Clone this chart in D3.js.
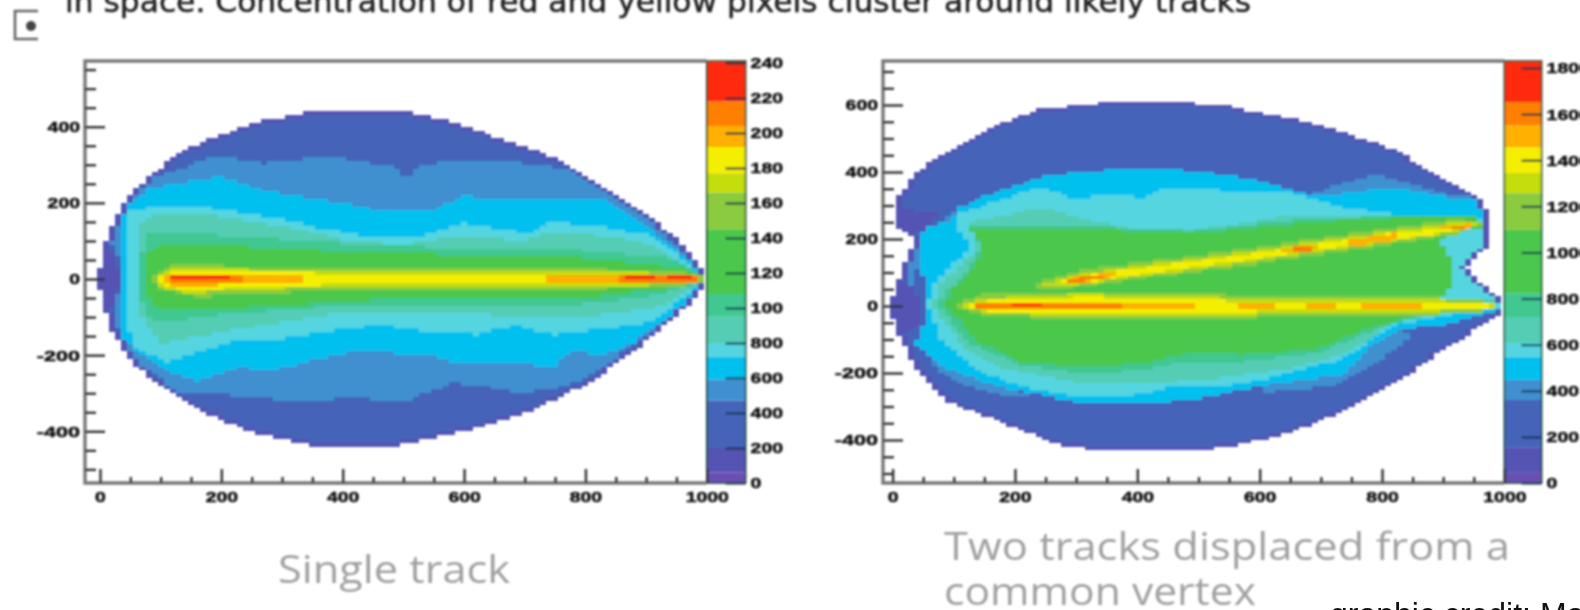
<!DOCTYPE html>
<html>
<head>
<meta charset="utf-8">
<script src="https://cdn.jsdelivr.net/npm/d3@7"></script>
<style>
  html, body { margin: 0; padding: 0; background: #fff; overflow: hidden; }
  svg { display: block; }
  .axis text { font-family: "Liberation Sans", sans-serif; font-weight: bold; font-size: 15.5px; fill: #111; stroke: #111; stroke-width: 0.5px; }
  .axis path { display: none; }
  .axis line { stroke: #333; stroke-width: 2.4px; }
</style>
</head>
<body>
<svg width="1580" height="610"></svg>
<script>
// Colour levels, lowest first. Each plot has its own z units:
var bandColors = ['#6a50b2', '#5452b4', '#4464b8', '#4090d0', '#00c0f0', '#55d5e0', '#55cdb5', '#40c890',
  '#4cc84c', '#8acb40', '#c4dd10', '#f4ee00', '#ffb000', '#ff8000', '#ff2a10'];
var leftLevels = [0, 6, 20, 47, 59, 72, 80, 95, 108, 145, 166, 177, 192, 204, 218];
var rightLevels = [0, 44, 155, 360, 447, 546, 607, 720, 823, 1098, 1257, 1345, 1456, 1552, 1652];

// Tick labels:
var xMajor = [0, 200, 400, 600, 800, 1000];
var xMinor = [50, 100, 150, 250, 300, 350, 450, 500, 550, 650, 700, 750, 850, 900, 950];
var leftYMajor = [-400, -200, 0, 200, 400];
var leftYMinor = [-500, -450, -350, -300, -250, -150, -100, -50, 50, 100, 150, 250, 300, 350, 450, 500, 550];
var rightYMajor = [-400, -200, 0, 200, 400, 600];
var rightYMinor = [-500, -450, -350, -300, -250, -150, -100, -50, 50, 100, 150, 250, 300, 350, 450, 500, 550, 650, 700];
var leftBarTicks = [0, 20, 40, 60, 80, 100, 120, 140, 160, 180, 200, 220, 240];
var leftBarLabels = ['0', '200', '400', '600', '800', '100', '120', '140', '160', '180', '200', '220', '240'];
var rightBarTicks = [0, 200, 400, 600, 800, 1000, 1200, 1400, 1600, 1800];

// Single track: contours as [x, y]
var leftOutline = [[0, 30], [10, 102], [25, 160], [43, 207], [84, 278], [150, 347], [250, 409], [350, 439], [500, 439], [582, 413], [665, 365], [748, 320], [832, 242], [914, 155], [965, 85], [1003, 5], [1003, -5], [972, -68], [873, -200], [790, -287], [707, -348], [624, -392], [500, -435], [350, -435], [250, -403], [167, -348], [84, -265], [43, -200], [18, -130], [5, -68], [0, -30]];
var leftPurple = [[0, 80], [20, 70], [30, 30], [32, -10], [28, -50], [15, -75], [0, -80]];
var leftSteel = [[33, 0], [30, 60], [18, 100], [30, 170], [55, 220], [84, 268], [126, 286], [192, 326], [265, 304], [375, 322], [470, 300], [495, 290], [505, 255], [515, 290], [540, 304], [625, 310], [707, 304], [790, 286], [832, 234], [900, 160], [960, 75], [985, 15], [985, -15], [950, -90], [873, -180], [832, -225], [790, -269], [748, -286], [690, -300], [624, -278], [582, -273], [549, -295], [499, -321], [416, -312], [333, -321], [267, -312], [209, -304], [126, -295], [70, -230], [40, -170], [20, -90], [30, -40]];
var leftCyan = [[40, 0], [35, 70], [30, 130], [43, 190], [84, 240], [140, 254], [195, 268], [265, 233], [365, 207], [465, 181], [550, 181], [600, 216], [707, 207], [832, 207], [873, 172], [930, 102], [980, 39], [990, 5], [990, -5], [975, -45], [930, -110], [873, -173], [832, -199], [773, -190], [748, -234], [681, -217], [582, -217], [540, -199], [416, -190], [350, -212], [292, -238], [225, -234], [159, -269], [109, -243], [67, -199], [34, -146], [35, -80]];
var leftLightCyan = [[50, 0], [45, 60], [43, 130], [43, 173], [84, 190], [167, 190], [233, 172], [292, 159], [365, 133], [441, 111], [516, 106], [600, 146], [665, 129], [707, 120], [740, 150], [832, 137], [914, 111], [972, 39], [992, 3], [992, -3], [960, -50], [914, -112], [832, -129], [748, -146], [681, -120], [624, -146], [540, -138], [457, -120], [375, -138], [308, -155], [233, -155], [167, -190], [109, -217], [59, -181], [45, -120], [45, -60]];
var leftTeal = [[62, 0], [60, 60], [65, 150], [90, 170], [200, 165], [300, 140], [400, 105], [500, 90], [600, 115], [700, 100], [740, 125], [850, 110], [920, 85], [975, 25], [995, 2], [995, -2], [975, -25], [920, -75], [830, -95], [750, -95], [650, -95], [500, -90], [400, -90], [300, -115], [200, -140], [100, -170], [75, -120], [62, -60]];
var leftSea = [[70, 0], [68, 60], [80, 120], [200, 115], [400, 95], [600, 80], [800, 75], [940, 55], [985, 12], [997, 0], [985, -12], [930, -40], [800, -65], [600, -70], [400, -70], [200, -95], [85, -115], [70, -60]];
var leftGreen = [[78, 0], [80, 70], [100, 90], [250, 85], [430, 70], [800, 55], [960, 30], [995, 0], [960, -20], [800, -50], [500, -50], [250, -75], [100, -85], [80, -50]];
var leftLime = [[84, 0], [120, 38], [240, 34], [500, 28], [800, 28], [980, 14], [998, 0], [980, -14], [800, -28], [500, -28], [240, -38], [160, -48], [100, -28]];
var leftYellowGreen = [[88, 0], [115, 28], [220, 26], [400, 18], [700, 18], [970, 14], [994, 0], [970, -14], [700, -18], [400, -18], [230, -30], [150, -38], [110, -28]];
var leftYellow = [[94, 0], [120, 22], [215, 22], [400, 13], [700, 13], [975, 12], [990, 0], [975, -12], [700, -13], [400, -13], [215, -24], [150, -34], [110, -18]];
var leftAmberA = [[98, 0], [120, 13], [330, 13], [335, -13], [120, -16]];
var leftAmberB = [[740, 12], [988, 12], [988, -12], [740, -12]];
var leftOrangeA = [[108, 0], [125, 12], [230, 12], [240, -12], [125, -12]];
var leftOrangeB = [[860, 12], [990, 8], [990, -8], [860, -12]];
var leftRedA = [[118, 9], [214, 9], [214, 1], [118, 1]];
var leftRedB = [[870, 9], [920, 9], [920, 1], [870, 1]];
var leftRedC = [[940, 9], [980, 9], [980, 1], [940, 1]];

// Two tracks: contours as [x, y]
var rightOutline = [[-3, 3], [1, 38], [17, 117], [37, 201], [30, 206], [1, 246], [10, 325], [30, 384], [79, 454], [161, 533], [244, 588], [342, 607], [425, 612], [532, 602], [656, 558], [738, 518], [820, 469], [903, 374], [960, 320], [980, 255], [980, 186], [935, 117], [944, 97], [1003, 8], [1003, -17], [903, -126], [820, -235], [738, -314], [656, -373], [573, -413], [491, -433], [359, -433], [277, -418], [202, -364], [87, -284], [37, -185], [1, -56]];
var rightPurpleLobe = [[3, 250], [20, 290], [75, 275], [60, 225], [30, 215]];
var rightPurpleEnd = [[0, 70], [25, 70], [40, 30], [48, -10], [40, -60], [15, -80], [0, -70]];
var rightSteelLeft = [[18, 115], [38, 205], [70, 240], [110, 295], [130, 290], [100, 230], [60, 170], [40, 110], [30, 60]];
var rightSteelLow = [[30, -110], [60, -140], [75, -195], [120, -240], [200, -275], [240, -272], [161, -235], [87, -185], [37, -116]];
var rightSteelLowRight = [[600, -260], [720, -240], [790, -170], [850, -90], [828, -71], [779, -126], [738, -205], [614, -235]];
var rightSteelTop = [[690, 335], [740, 370], [796, 394], [830, 370], [903, 335], [960, 320], [960, 300], [700, 300]];
var rightCyan = [[45, 146], [37, 196], [60, 235], [93, 256], [110, 295], [175, 345], [244, 384], [326, 404], [408, 409], [491, 404], [573, 384], [656, 345], [697, 325], [738, 335], [820, 355], [903, 325], [960, 315], [975, 236], [975, 186], [935, 125], [944, 90], [994, 18], [994, -10], [985, -17], [903, -56], [828, -71], [779, -126], [738, -205], [614, -235], [507, -274], [408, -294], [318, -294], [227, -260], [161, -235], [87, -185], [37, -116], [53, -47], [56, 18]];
var rightLightCyan = [[100, 250], [110, 275], [175, 315], [244, 355], [301, 315], [359, 335], [408, 320], [449, 355], [540, 345], [656, 335], [738, 295], [820, 275], [952, 275], [968, 236], [970, 190], [935, 130], [945, 85], [990, 12], [992, -5], [903, -27], [820, -56], [779, -106], [721, -165], [614, -215], [532, -245], [457, -235], [408, -264], [318, -274], [227, -245], [153, -205], [112, -155], [79, -96], [72, -55], [56, 0], [72, 77], [105, 137], [130, 170]];
var rightTeal = [[125, 250], [244, 295], [326, 256], [408, 226], [532, 236], [656, 275], [779, 266], [952, 270], [965, 235], [940, 225], [890, 200], [905, 147], [915, 67], [890, 25], [985, 15], [990, -3], [903, -22], [820, -50], [738, -146], [656, -185], [532, -215], [408, -235], [293, -225], [177, -185], [120, -126], [88, -60], [65, 0], [80, 70], [115, 130], [140, 170]];
var rightSea = [[128, 240], [359, 236], [491, 224], [656, 256], [820, 270], [948, 272], [965, 240], [925, 228], [893, 198], [908, 147], [917, 67], [893, 22], [982, 8], [965, -5], [862, -32], [779, -76], [697, -140], [573, -165], [491, -165], [425, -185], [326, -205], [210, -175], [130, -115], [100, -55], [75, 0], [90, 47], [120, 100], [145, 170]];
var rightGreen = [[128, 230], [359, 226], [491, 216], [656, 246], [820, 266], [944, 275], [968, 236], [920, 225], [895, 196], [911, 147], [919, 67], [895, 18], [980, 3], [960, -5], [862, -27], [779, -66], [697, -126], [573, -146], [491, -136], [425, -165], [326, -185], [210, -165], [137, -106], [112, -47], [85, -5], [95, 47], [125, 100], [150, 170]];
var rightLimeA = [[95, 0], [150, 35], [400, 40], [700, 30], [900, 25], [985, 12], [985, -12], [900, -25], [600, -35], [300, -40], [150, -30]];
var rightLimeB = [[225, 62], [312, 110], [415, 132], [568, 168], [666, 194], [775, 222], [922, 258], [970, 250], [922, 215], [775, 172], [666, 145], [568, 118], [415, 84], [312, 58], [250, 45]];
var rightYellowGreenA = [[105, 0], [160, 24], [260, 28], [320, 42], [380, 28], [700, 22], [890, 22], [910, 12], [990, 6], [990, -6], [900, -15], [600, -25], [300, -28], [160, -22]];
var rightYellowGreenB = [[235, 62], [312, 96], [415, 122], [568, 157], [666, 184], [775, 212], [818, 224], [922, 250], [960, 245], [922, 222], [818, 194], [775, 182], [666, 155], [568, 128], [415, 92], [312, 66], [250, 55]];
var rightYellowA = [[115, 0], [160, 16], [260, 16], [320, 32], [380, 16], [500, 16], [700, 12], [870, 12], [905, 6], [975, 6], [975, -6], [900, -6], [870, -12], [500, -16], [300, -22], [160, -18]];
var rightYellowB = [[250, 66], [312, 91], [415, 116], [568, 150], [666, 178], [775, 206], [818, 218], [860, 222], [922, 245], [945, 240], [922, 226], [818, 198], [775, 186], [666, 160], [568, 134], [415, 98], [312, 70]];
var rightAmberA = [[130, 0], [160, 12], [500, 12], [500, -12], [160, -12]];
var rightAmberB = [[568, 12], [628, 12], [628, -12], [568, -12]];
var rightAmberC = [[671, 12], [726, 12], [726, -12], [671, -12]];
var rightAmberD = [[764, 12], [867, 12], [867, -12], [764, -12]];
var rightAmberE = [[275, 76], [312, 90], [370, 104], [370, 90], [312, 72]];
var rightAmberF = [[640, 172], [700, 186], [700, 168], [640, 155]];
var rightAmberG = [[750, 198], [830, 218], [830, 198], [750, 180]];
var rightAmberH = [[900, 240], [945, 246], [945, 232], [900, 226]];
var rightOrangeA = [[138, 8], [372, 8], [372, -8], [138, -8]];
var rightOrangeB = [[285, 80], [345, 94], [345, 80], [285, 68]];
var rightOrangeC = [[660, 175], [690, 180], [690, 165], [660, 158]];
var rightOrangeD = [[912, 240], [935, 244], [935, 232], [912, 228]];
var rightRedA = [[192, 9], [246, 9], [246, 1], [192, 1]];

var svg = d3.select('svg');

// Blurred like the scaled screenshot:
svg.append('defs')
  .append('filter')
  .attr('id', 'soft')
  .attr('filterUnits', 'userSpaceOnUse')
  .attr('x', 0).attr('y', 0).attr('width', 1580).attr('height', 610)
  .append('feGaussianBlur')
  .attr('stdDeviation', 1.2);

var page = svg.append('g').attr('filter', 'url(#soft)');

drawPlot({
  frame: { left: 85, right: 706.8, top: 61, bottom: 483, barRight: 745.6 },
  x: d3.scaleLinear().domain([0, 1000]).range([100, 706.8]),
  y: d3.scaleLinear().domain([0, 400]).range([279, 126.7]),
  z: d3.scaleLinear().domain([0, 240]).range([483, 63]),
  zTop: 241,
  levels: leftLevels,
  yMajor: leftYMajor,
  yMinor: leftYMinor,
  barTicks: leftBarTicks,
  barLabels: leftBarLabels,
  layers: [[2, leftOutline], [1, leftPurple], [3, leftSteel], [4, leftCyan], [5, leftLightCyan], [6, leftTeal],
    [7, leftSea], [8, leftGreen], [9, leftLime], [10, leftYellowGreen], [11, leftYellow],
    [12, leftAmberA], [12, leftAmberB], [13, leftOrangeA], [13, leftOrangeB], [14, leftRedA], [14, leftRedB], [14, leftRedC]]
});

drawPlot({
  frame: { left: 883, right: 1504.4, top: 61, bottom: 483, barRight: 1541.6 },
  x: d3.scaleLinear().domain([0, 1000]).range([892.6, 1504.4]),
  y: d3.scaleLinear().domain([0, 600]).range([306, 105]),
  z: d3.scaleLinear().domain([0, 1800]).range([483, 68]),
  zTop: 1830,
  levels: rightLevels,
  yMajor: rightYMajor,
  yMinor: rightYMinor,
  barTicks: rightBarTicks,
  barLabels: rightBarTicks,
  layers: [[2, rightOutline], [1, rightPurpleLobe], [1, rightPurpleEnd], [3, rightSteelLeft], [3, rightSteelLow],
    [3, rightSteelLowRight], [3, rightSteelTop], [4, rightCyan], [5, rightLightCyan], [6, rightTeal], [7, rightSea],
    [8, rightGreen], [9, rightLimeA], [9, rightLimeB], [10, rightYellowGreenA], [10, rightYellowGreenB],
    [11, rightYellowA], [11, rightYellowB], [12, rightAmberA], [12, rightAmberB], [12, rightAmberC], [12, rightAmberD],
    [12, rightAmberE], [12, rightAmberF], [12, rightAmberG], [12, rightAmberH], [13, rightOrangeA], [13, rightOrangeB],
    [13, rightOrangeC], [13, rightOrangeD], [14, rightRedA]]
});

function drawPlot(p) {
  var f = p.frame;
  var color = d3.scaleThreshold().domain(p.levels.slice(1)).range(bandColors);
  var g = page.append('g');

  // Rasterise the contours to 10 x 10 bins, the last contour holding a bin wins:
  var outline = p.layers[0][1];
  var cells = [];
  d3.range(-10, 1010, 10).forEach(function (cx) {
    d3.range(-545, 730, 10).forEach(function (cy) {
      if (!d3.polygonContains(outline, [cx, cy])) return;
      var band = 2;
      p.layers.forEach(function (layer) {
        if (d3.polygonContains(layer[1], [cx, cy])) band = layer[0];
      });
      // Bins on the rim of the outline have few entries:
      var rim = !d3.polygonContains(outline, [cx - 10, cy]) || !d3.polygonContains(outline, [cx + 10, cy]) ||
        !d3.polygonContains(outline, [cx, cy - 10]) || !d3.polygonContains(outline, [cx, cy + 10]);
      cells.push({ x: cx, y: cy, value: p.levels[rim ? 1 : band] });
    });
  });

  g.append('g')
    .selectAll('rect')
    .data(cells.filter(function (d) { return p.x(d.x + 5) <= f.right + 0.5; }))
    .enter()
    .append('rect')
    .attr('shape-rendering', 'crispEdges')
    .attr('x', function (d) { return p.x(d.x - 5); })
    .attr('y', function (d) { return p.y(d.y + 5); })
    .attr('width', function (d) { return p.x(d.x + 5) - p.x(d.x - 5); })
    .attr('height', function (d) { return p.y(d.y - 5) - p.y(d.y + 5); })
    .attr('fill', function (d) { return color(d.value); });

  // Colour bar:
  var edges = p.levels.concat([p.zTop]);
  g.append('g')
    .selectAll('rect')
    .data(p.levels)
    .enter()
    .append('rect')
    .attr('x', f.right)
    .attr('width', f.barRight - f.right)
    .attr('y', function (d, i) { return Math.max(f.top, p.z(edges[i + 1])); })
    .attr('height', function (d, i) { return p.z(edges[i]) - Math.max(f.top, p.z(edges[i + 1])); })
    .attr('fill', function (d, i) { return bandColors[i]; });

  g.append('rect')
    .attr('x', f.right).attr('y', f.top)
    .attr('width', f.barRight - f.right).attr('height', f.bottom - f.top)
    .attr('fill', 'none').attr('stroke', '#1f4a33').attr('stroke-width', 1.6);

  var barAxis = g.append('g')
    .attr('class', 'axis')
    .attr('transform', 'translate(' + f.barRight + ',0)')
    .call(d3.axisRight(p.z).tickValues(p.barTicks).tickSize(-20).tickPadding(5)
      .tickFormat(function (d, i) { return p.barLabels[i]; }));
  barAxis.selectAll('line').style('stroke', '#123048').attr('stroke-opacity', 0.75);
  stretchLabels(barAxis);

  // Frame and the axes, ticks point inwards:
  g.append('path')
    .attr('d', 'M' + f.right + ',' + f.top + 'H' + f.left + 'V' + f.bottom + 'H' + f.right)
    .attr('fill', 'none').attr('stroke', '#777').attr('stroke-width', 3.4);

  var xBase = g.append('g').attr('class', 'axis').attr('transform', 'translate(0,' + f.bottom + ')');
  xBase.append('g').call(d3.axisBottom(p.x).tickValues(xMinor).tickSize(-6).tickFormat(''));
  var xLabels = xBase.append('g').call(d3.axisBottom(p.x).tickValues(xMajor).tickSize(-14).tickPadding(7)
    .tickFormat(String));
  stretchLabels(xLabels);
  xLabels.selectAll('text').attr('y', 8);

  var yBase = g.append('g').attr('class', 'axis').attr('transform', 'translate(' + f.left + ',0)');
  yBase.append('g').call(d3.axisLeft(p.y).tickValues(p.yMinor).tickSize(-11).tickFormat(''));
  var yLabels = yBase.append('g').call(d3.axisLeft(p.y).tickValues(p.yMajor).tickSize(-20).tickPadding(5)
    .tickFormat(String));
  stretchLabels(yLabels);
}

// The screenshot is wider than it is tall, so the digits are too:
function stretchLabels(axis) {
  axis.selectAll('text')
    .attr('textLength', function () { return this.textContent.length * 10.8; })
    .attr('lengthAdjust', 'spacingAndGlyphs');
}

// Title line cut off by the top of the page:
page.append('text')
  .attr('x', 65).attr('y', 12)
  .attr('textLength', 1186).attr('lengthAdjust', 'spacingAndGlyphs')
  .style('font-family', '"DejaVu Sans", sans-serif')
  .style('font-size', '31px')
  .style('fill', '#222')
  .style('stroke', '#222')
  .style('stroke-width', 0.5)
  .text('in space. Concentration of red and yellow pixels cluster around likely tracks');

// Small icon box, its right side is cut off:
page.append('path')
  .attr('d', 'M38,11H15V39H38')
  .attr('fill', 'none').attr('stroke', '#666').attr('stroke-width', 2.6);
page.append('circle')
  .attr('cx', 31).attr('cy', 26).attr('r', 5).attr('fill', '#444');

// Captions:
var captions = [
  { text: 'Single track', x: 278, y: 583, length: 232 },
  { text: 'Two tracks displaced from a', x: 944, y: 560, length: 566 },
  { text: 'common vertex', x: 944, y: 605, length: 312 }
];
page.selectAll('.caption')
  .data(captions)
  .enter()
  .append('text')
  .attr('class', 'caption')
  .attr('x', function (d) { return d.x; })
  .attr('y', function (d) { return d.y; })
  .attr('textLength', function (d) { return d.length; })
  .attr('lengthAdjust', 'spacingAndGlyphs')
  .style('font-family', '"Open Sans", sans-serif')
  .style('font-size', '39px')
  .style('fill', '#a0a0a0')
  .text(function (d) { return d.text; });

// Credit line, cut off by the bottom and the right of the page:
svg.append('text')
  .attr('x', 1330).attr('y', 625)
  .style('font-family', '"Liberation Sans", sans-serif')
  .style('font-size', '32px')
  .style('fill', '#111')
  .text('graphic credit: Ma');
</script>
</body>
</html>
